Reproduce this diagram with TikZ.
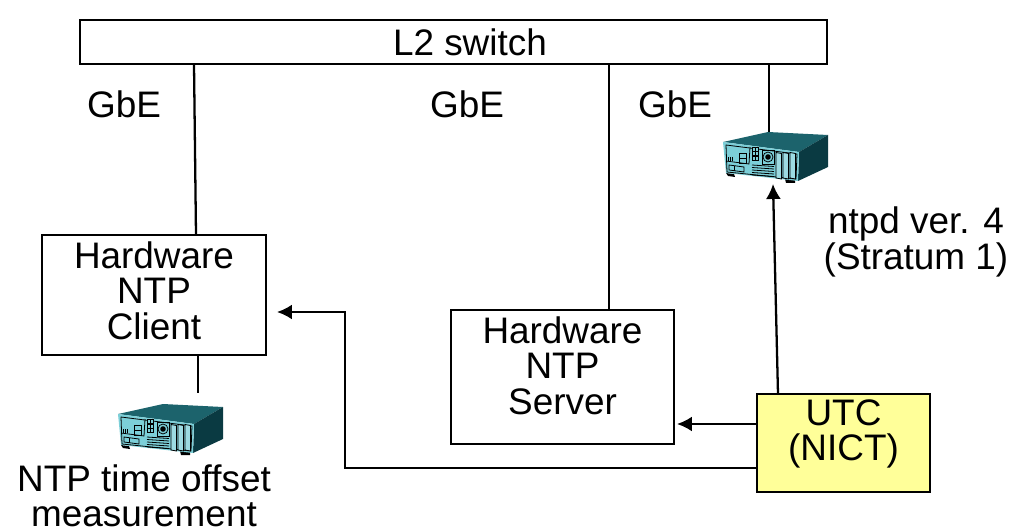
\documentclass[tikz,border=0pt]{standalone}
\usepackage{fontspec}
\setmainfont{Liberation Sans}
\usetikzlibrary{arrows.meta}
\definecolor{utcfill}{HTML}{FFFF99}
\definecolor{srvtop}{HTML}{1C636C}
\definecolor{srvfront}{HTML}{7CCFD8}
\definecolor{srvside}{HTML}{0A3A42}
\newcommand{\padbelow}[1]{\rule[-#1]{0pt}{0pt}}
\tikzset{
  srvicon/.pic={
    \fill[black] (3,41) -- (5,44) -- (12,45) -- (11,42) -- cycle;
    \fill[black] (62,47) -- (63,51) -- (72,51) -- (72,48) -- cycle;
    \fill[srvtop] (0,10) -- (45,0) -- (105,3) -- (76,20) -- cycle;
    \fill[srvside] (76,20) -- (105,3) -- (105,35) -- (75,49) -- cycle;
    \fill[srvfront] (0,10) -- (76,20) -- (75,49) -- (3,41) -- cycle;
    \draw[srvline] (3,13) -- (74,22) -- (73,47) -- (4,40) -- cycle;
    \draw[srvline] (3,29) -- (26,32) -- (27,15);
    \draw[srvline] (16,21) rectangle (23,31);
    \draw[srvline] (16,26) -- (23,26);
    \draw[srvline] (6,33) -- (21,35) -- (21,40) -- (6,38) -- cycle;
    \draw[srvline] (11,34) -- (11,39);
    \foreach \xa in {5,7,9}
      \draw[srvline] (\xa,25) -- (\xa,29);
    % grid of the connectors
    \fill[black] (29,15) rectangle (36,29);
    \foreach \xa in {29.8,33}
      \foreach \ya in {16,20.5,25}
        \fill[srvfront] (\xa,\ya) rectangle ++(2.4,3);
    % fan
    \draw[srvline] (39,18) rectangle (51,32);
    \draw[srvline] (45,25) circle[radius=5];
    \fill[black] (45,25) circle[radius=2.8];
    % vents
    \foreach \ya in {33,35.5,38,40.5,43}
      \draw[srvline] (29,\ya) -- (51,\ya+1.5);
    % bays
    \foreach \xa in {53,60,67}
      \draw[srvline,fill=srvfront!75!white] (\xa,20.5) -- (\xa+5.5,21.5) -- (\xa+5.5,47) -- (\xa,46) -- cycle;
  },
  srvline/.style={black,line width=0.45pt},
  box/.style={draw,line width=1.3pt,align=center,inner sep=0pt,font=\fontsize{21}{20.2}\selectfont},
  txt/.style={align=center,inner sep=0pt,font=\fontsize{21}{20.2}\selectfont},
  wire/.style={line width=1.3pt},
  arr/.style={line width=1.3pt,-{Latex[length=8.5pt,width=8.5pt]}},
}
\begin{document}
\begin{tikzpicture}[x=0.2mm,y=-0.2mm]
  \useasboundingbox (0,0) rectangle (1014,532);

  % boxes
  \node[box,minimum width=14.94cm,minimum height=0.88cm] (sw) at (453.5,42) {\hspace*{18.7pt}L2 switch};
  \node[box,minimum width=4.48cm,minimum height=2.4cm] (client) at (154,295) {Hardware\\NTP\\Client\padbelow{5.5pt}};
  \node[box,minimum width=4.46cm,minimum height=2.68cm] (server) at (562.5,377) {Hardware\\NTP\\Server\padbelow{13.5pt}};
  \node[box,fill=utcfill,minimum width=3.46cm,minimum height=1.96cm] (utc) at (843.5,443) {UTC\\(NICT)\padbelow{14.5pt}};

  % server icons, the node only holds the place
  \node[minimum width=2.1cm,minimum height=1.02cm,inner sep=0pt] (ntpd) at (775.5,157.5) {};
  \pic at (723,132) {srvicon};
  \node[minimum width=2.1cm,minimum height=1.02cm,inner sep=0pt] (meas) at (170.5,429.5) {};
  \pic at (118,404) {srvicon};

  % labels
  \node[txt] (gbeA) at (124,104) {GbE};
  \node[txt] (gbeB) at (467,104) {GbE};
  \node[txt] (gbeC) at (675,104) {GbE};
  \node[txt] (ntpdtxt) at (916,242) {ntpd ver. 4\\(Stratum 1)};
  \node[txt] (meastxt) at (144,496) {NTP time offset\\measurement};

  % points on the box edges
  \coordinate (swA) at (194,64);
  \coordinate (swB) at (609,64);
  \coordinate (swC) at (769,64);
  \coordinate (clientT) at (196,235);
  \coordinate (clientB) at (198,355);
  \coordinate (clientR) at (277,312);
  \coordinate (serverT) at (609,310);
  \coordinate (serverR) at (677,424);
  \coordinate (ntpdT) at (769,132);
  \coordinate (ntpdB) at (773,184);
  \coordinate (measT) at (198,393);
  \coordinate (utcT) at (778,394);
  \coordinate (utcA) at (757,424);
  \coordinate (utcB) at (757,468);
  \coordinate (bendA) at (345,468);
  \coordinate (bendB) at (345,312);

  \draw[wire] (swA) -- (clientT);
  \draw[wire] (swB) -- (serverT);
  \draw[wire] (swC) -- (ntpdT);
  \draw[wire] (clientB) -- (measT);
  \draw[arr] (utcT) -- (ntpdB);
  \draw[arr] (utcA) -- (serverR);
  \draw[arr] (utcB) -- (bendA) -- (bendB) -- (clientR);
\end{tikzpicture}
\end{document}
